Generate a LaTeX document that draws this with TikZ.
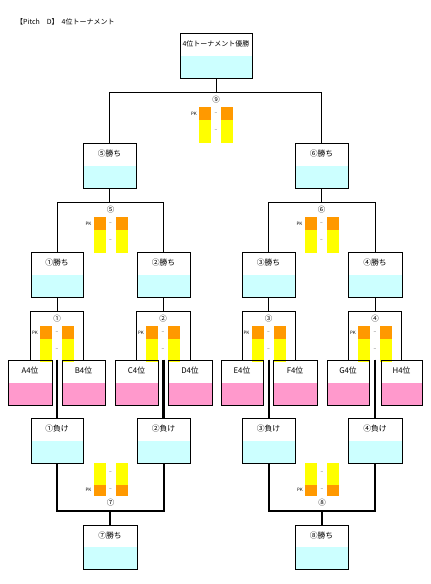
\documentclass[tikz,border=0pt]{standalone}
\usepackage{fontspec}
\setmainfont{Noto Sans CJK JP}
\definecolor{lcyan}{HTML}{CCFFFF}
\definecolor{pnk}{HTML}{FF99CC}
\definecolor{orng}{HTML}{FF9900}
\definecolor{yel}{HTML}{FFFF00}
\tikzset{
  box/.style={draw=black,line width=1pt,inner sep=0pt,
    path picture={\fill[#1] (path picture bounding box.west) rectangle (path picture bounding box.south east);}},
  boxtxt/.style={font=\fontsize{7.8}{9}\selectfont,inner sep=0pt},
  thin/.style={line width=1pt},
  tk/.style={line width=2.6pt},
  mid/.style={line width=2pt},
  numlbl/.style={font=\fontsize{7.5}{9}\selectfont,inner sep=0pt},
  pklbl/.style={font=\fontsize{4.5}{5}\selectfont,inner sep=0pt},
  dashlbl/.style={font=\fontsize{5}{6}\selectfont,inner sep=0pt,text=black!70},
}
\newcommand\bx[7]{%
  \node[box=#6,minimum width={#4-#2},minimum height={#5-#3}] (#1) at ({(#2+#4)/2},{(#3+#5)/2}) {};
  \node[boxtxt] (#1t) at ([yshift=-11pt]#1.north) {#7};}
% bars hanging down from top yt, centre c
\newcommand\pkdown[3]{%
  \fill[orng] ({#1-17},{#2}) rectangle ({#1-5},{#2+13});
  \fill[yel] ({#1-17},{#2+13}) rectangle ({#1-5},{#2+36});
  \fill[orng] ({#1+5},{#2}) rectangle ({#1+17},{#2+13});
  \fill[yel] ({#1+5},{#2+13}) rectangle ({#1+17},{#2+36});
  \node[pklbl] at ({#1-22},{#2+7}) {PK};
  \node[dashlbl] at ({#1},{#2+7}) {–};
  \node[dashlbl] at ({#1},{#2+24}) {–};
  \node[numlbl] at ({#1},{#2-7}) {#3};}
% bars standing on bottom yb, centre c
\newcommand\pkup[3]{%
  \fill[yel] ({#1-17},{#2-33}) rectangle ({#1-5},{#2-11});
  \fill[orng] ({#1-17},{#2-11}) rectangle ({#1-5},{#2});
  \fill[yel] ({#1+5},{#2-33}) rectangle ({#1+17},{#2-11});
  \fill[orng] ({#1+5},{#2-11}) rectangle ({#1+17},{#2});
  \node[pklbl] at ({#1-22},{#2-6}) {PK};
  \node[dashlbl] at ({#1},{#2-6}) {–};
  \node[dashlbl] at ({#1},{#2-23}) {–};
  \node[numlbl] at ({#1},{#2+7}) {#3};}
\begin{document}
\begin{tikzpicture}[x=1pt,y=-1pt]
\useasboundingbox[fill=white] (0,0) rectangle (431,584);
\node[anchor=west,font=\fontsize{7}{8}\selectfont,inner sep=0pt] (title) at (16,22) {【Pitch　D】\hspace{3pt}4位トーナメント};

% PK bars
\pkdown{216}{107}{⑨}
\pkdown{110.5}{217}{⑤}
\pkdown{321.5}{217}{⑥}
\pkdown{57}{326}{①}
\pkdown{163}{326}{②}
\pkdown{268.5}{326}{③}
\pkdown{375}{326}{④}
\pkup{110.5}{496}{⑦}
\pkup{322}{496}{⑧}

% boxes
\bx{top}{180}{33}{252}{78}{lcyan}{\fontsize{7}{8}\selectfont 4位トーナメント優勝}
\bx{w5}{83}{143}{136}{188}{lcyan}{⑤勝ち}
\bx{w6}{295}{143}{348}{188}{lcyan}{⑥勝ち}
\bx{w1}{31}{252}{83}{297}{lcyan}{①勝ち}
\bx{w2}{137}{252}{190}{297}{lcyan}{②勝ち}
\bx{w3}{242}{252}{295}{297}{lcyan}{③勝ち}
\bx{w4}{348}{252}{402}{297}{lcyan}{④勝ち}
\bx{a4}{8}{360}{52}{405}{pnk}{A4位}
\bx{b4}{62}{360}{105}{405}{pnk}{B4位}
\bx{c4}{115}{360}{158}{405}{pnk}{C4位}
\bx{d4}{168}{360}{212}{405}{pnk}{D4位}
\bx{e4}{221}{360}{263}{405}{pnk}{E4位}
\bx{f4}{273}{360}{317}{405}{pnk}{F4位}
\bx{g4}{327}{360}{369}{405}{pnk}{G4位}
\bx{h4}{381}{360}{422}{405}{pnk}{H4位}
\bx{l1}{31}{418}{83}{463}{lcyan}{①負け}
\bx{l2}{137}{418}{190}{463}{lcyan}{②負け}
\bx{l3}{242}{418}{295}{463}{lcyan}{③負け}
\bx{l4}{348}{418}{402}{463}{lcyan}{④負け}
\bx{w7}{83}{525}{137}{569}{lcyan}{⑦勝ち}
\bx{w8}{295}{525}{348}{569}{lcyan}{⑧勝ち}

% junctions
\coordinate (j9) at ([yshift=-14pt]top.south);
\coordinate (j5) at ([yshift=-14pt]w5.south);
\coordinate (j6) at ([yshift=-14pt]w6.south);
\coordinate (j1) at ([yshift=-14pt]w1.south);
\coordinate (j2) at ([yshift=-14pt]w2.south);
\coordinate (j3) at ([yshift=-14pt]w3.south);
\coordinate (j4) at ([yshift=-14pt]w4.south);
\coordinate (j7) at ([yshift=-47pt]l1.south -| w7.north);
\coordinate (j8) at ([yshift=-47pt]l3.south -| w8.north);

% winners' brackets
\draw[thin] (top.south) -- (j9);
\draw[thin] (w5.north) |- (j9) -| (w6.north);
\draw[thin] (w5.south) -- (j5);
\draw[thin] (w1.north) |- (j5) -| (w2.north);
\draw[thin] (w6.south) -- (j6);
\draw[thin] (w3.north) |- (j6) -| (w4.north);
\draw[thin] (w1.south) -- (j1);
\draw[thin] (a4.north) |- (j1) -| (b4.north);
\draw[thin] (w2.south) -- (j2);
\draw[thin] (c4.north) |- (j2) -| (d4.north);
\draw[thin] (w3.south) -- (j3);
\draw[thin] (e4.north) |- (j3) -| (f4.north);
\draw[thin] (w4.south) -- (j4);
\draw[thin] (g4.north) |- (j4) -| (h4.north);

% losers down to the 負け boxes
\draw[tk] (l1.north |- a4.north) -- (l1.north);
\draw[tk] (l2.north |- c4.north) -- (l2.north);
\draw[mid] (l3.north |- e4.north) -- (l3.north);
\draw[tk] (l4.north |- g4.north) -- (l4.north);

% losers' brackets
\draw[mid] (l1.south) |- (j7) -| (l2.south);
\draw[mid] (j7) -- (w7.north);
\draw[mid] (l3.south) |- (j8) -| (l4.south);
\draw[mid] (j8) -- (w8.north);
\end{tikzpicture}
\end{document}
